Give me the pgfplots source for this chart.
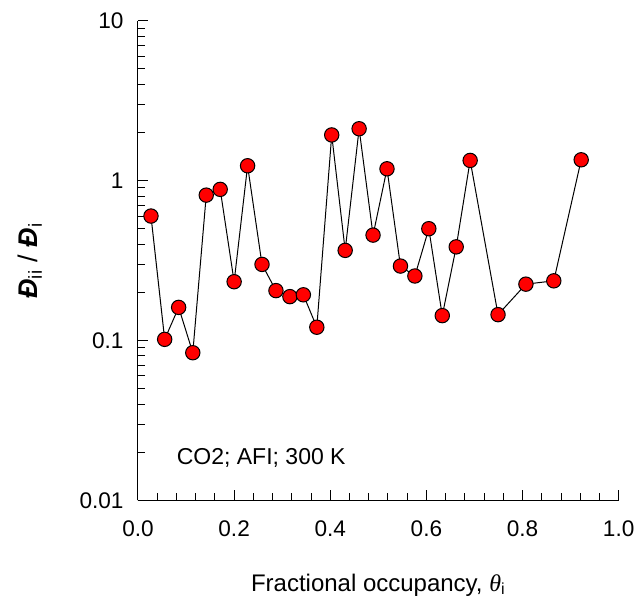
\documentclass[border=0pt]{standalone}
\usepackage{fontspec}
\setmainfont{Liberation Sans}
\newfontfamily\seriffont{Liberation Serif}
\usepackage{pgfplots}
\pgfplotsset{compat=1.18}
\begin{document}
\begin{tikzpicture}
\useasboundingbox (-69pt,-50.85pt) rectangle (250.5pt,250.15pt);
\begin{axis}[
  at={(0,0)}, anchor=south west,
  scale only axis,
  width=240.35pt, height=239.8pt,
  xmin=0, xmax=1, ymin=0.01, ymax=10,
  ymode=log,
  axis x line*=bottom, axis y line*=left,
  axis line style={line width=0.5pt},
  tick align=inside,
  major tick length=5pt, minor tick length=3.5pt,
  tick style={line width=0.5pt, black},
  xtick={0,0.2,0.4,0.6,0.8,1.0},
  minor x tick num=4,
  xticklabel style={/pgf/number format/fixed,/pgf/number format/fixed zerofill,/pgf/number format/precision=1, yshift=-6.5pt},
  ytick={0.01,0.1,1,10},
  yticklabels={0.01,0.1,1,10},
  yticklabel style={xshift=-3.7pt},
  /pgf/number format/assume math mode=true,
  tick label style={font=\fontsize{11.3}{13}\selectfont},
  label style={font=\fontsize{12}{14}\selectfont},
  xlabel={Fractional occupancy, {\seriffont\itshape θ}\textsubscript{i}},
  xlabel style={at={(axis description cs:0.5,0)}, anchor=center, yshift=-42.3pt},
  ylabel={\textbf{\textit{Đ}}\textsubscript{ii} / \textbf{\textit{Đ}}\textsubscript{i}},
  ylabel style={at={(axis description cs:-0.2247,0.5)}, anchor=center, font=\fontsize{13.5}{15}\selectfont},
  clip=false,
]
\addplot[black, line width=0.5pt, mark=*, mark size=3.6pt, mark options={fill=red, draw=black, line width=0.5pt}] coordinates {
(0.027,0.60)
(0.0555,0.1016)
(0.0846,0.161)
(0.114,0.0838)
(0.142,0.811)
(0.171,0.881)
(0.200,0.233)
(0.228,1.238)
(0.258,0.299)
(0.287,0.205)
(0.316,0.188)
(0.344,0.193)
(0.372,0.121)
(0.403,1.93)
(0.431,0.366)
(0.460,2.11)
(0.489,0.456)
(0.518,1.185)
(0.546,0.292)
(0.576,0.253)
(0.605,0.500)
(0.633,0.143)
(0.662,0.385)
(0.691,1.337)
(0.749,0.145)
(0.807,0.225)
(0.865,0.236)
(0.922,1.349)
};
\node[anchor=west, font=\fontsize{11.5}{13}\selectfont, inner sep=0pt] at (axis cs:0.08,0.0184) {CO2; AFI; 300 K};
\end{axis}
\end{tikzpicture}
\end{document}
